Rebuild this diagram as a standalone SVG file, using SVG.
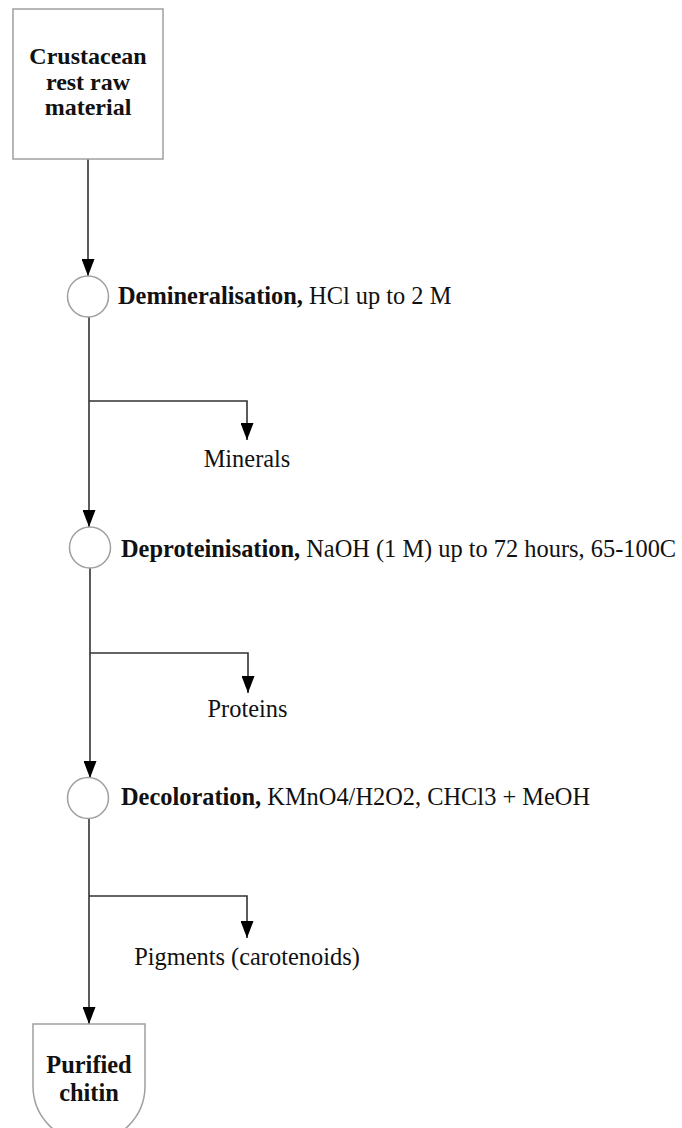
<svg xmlns="http://www.w3.org/2000/svg" width="682" height="1128" viewBox="0 0 682 1128">
<style>
.shape{fill:#fff;stroke:#a0a0a0;stroke-width:1.5}
.conn{fill:none;stroke:#333;stroke-width:1.6}
text{font-family:"Liberation Serif","Times New Roman",serif;font-size:24.4px;fill:#111}
.b{font-weight:bold}
.c{text-anchor:middle}
.bx{font-size:24px}
</style>
<defs>
<marker id="arr" markerUnits="userSpaceOnUse" markerWidth="17" markerHeight="13" refX="17" refY="6.5" orient="auto">
<path d="M0,0 L17,6.5 L0,13 Z" fill="#000"/>
</marker>
</defs>
<g id="connectors">
<path class="conn" d="M88,159 V276" marker-end="url(#arr)"/>
<path class="conn" d="M89,317 V527" marker-end="url(#arr)"/>
<path class="conn" d="M89,401 H247 V440" marker-end="url(#arr)"/>
<path class="conn" d="M90,568 V778" marker-end="url(#arr)"/>
<path class="conn" d="M90,653 H248 V693" marker-end="url(#arr)"/>
<path class="conn" d="M89,818 V1024" marker-end="url(#arr)"/>
<path class="conn" d="M89,896 H247 V938" marker-end="url(#arr)"/>
</g>
<g id="raw-material">
<rect class="shape" x="13" y="9" width="150" height="150"/>
<text class="b c bx" x="88" y="64">Crustacean</text>
<text class="b c bx" x="88" y="89.5">rest raw</text>
<text class="b c bx" x="88" y="115">material</text>
</g>
<g id="demineralisation">
<circle class="shape" cx="88" cy="296.5" r="20.5"/>
<text x="118" y="304"><tspan class="b">Demineralisation,</tspan> HCl up to 2 M</text>
</g>
<g id="minerals">
<text class="c" x="247" y="467">Minerals</text>
</g>
<g id="deproteinisation">
<circle class="shape" cx="90" cy="547.5" r="20.5"/>
<text x="121" y="557"><tspan class="b">Deproteinisation,</tspan> NaOH (1 M) up to 72 hours, 65-100C</text>
</g>
<g id="proteins">
<text class="c" x="247.5" y="717">Proteins</text>
</g>
<g id="decoloration">
<circle class="shape" cx="88" cy="798" r="20.5"/>
<text x="121" y="805"><tspan class="b">Decoloration,</tspan> KMnO4/H2O2, CHCl3 + MeOH</text>
</g>
<g id="pigments">
<text class="c" x="247" y="965">Pigments (carotenoids)</text>
</g>
<g id="purified-chitin">
<path class="shape" d="M33,1024 H145 V1086 A56,56 0 0 1 33,1086 Z"/>
<text class="b c" x="89" y="1073">Purified</text>
<text class="b c" x="89" y="1101">chitin</text>
</g>
</svg>
